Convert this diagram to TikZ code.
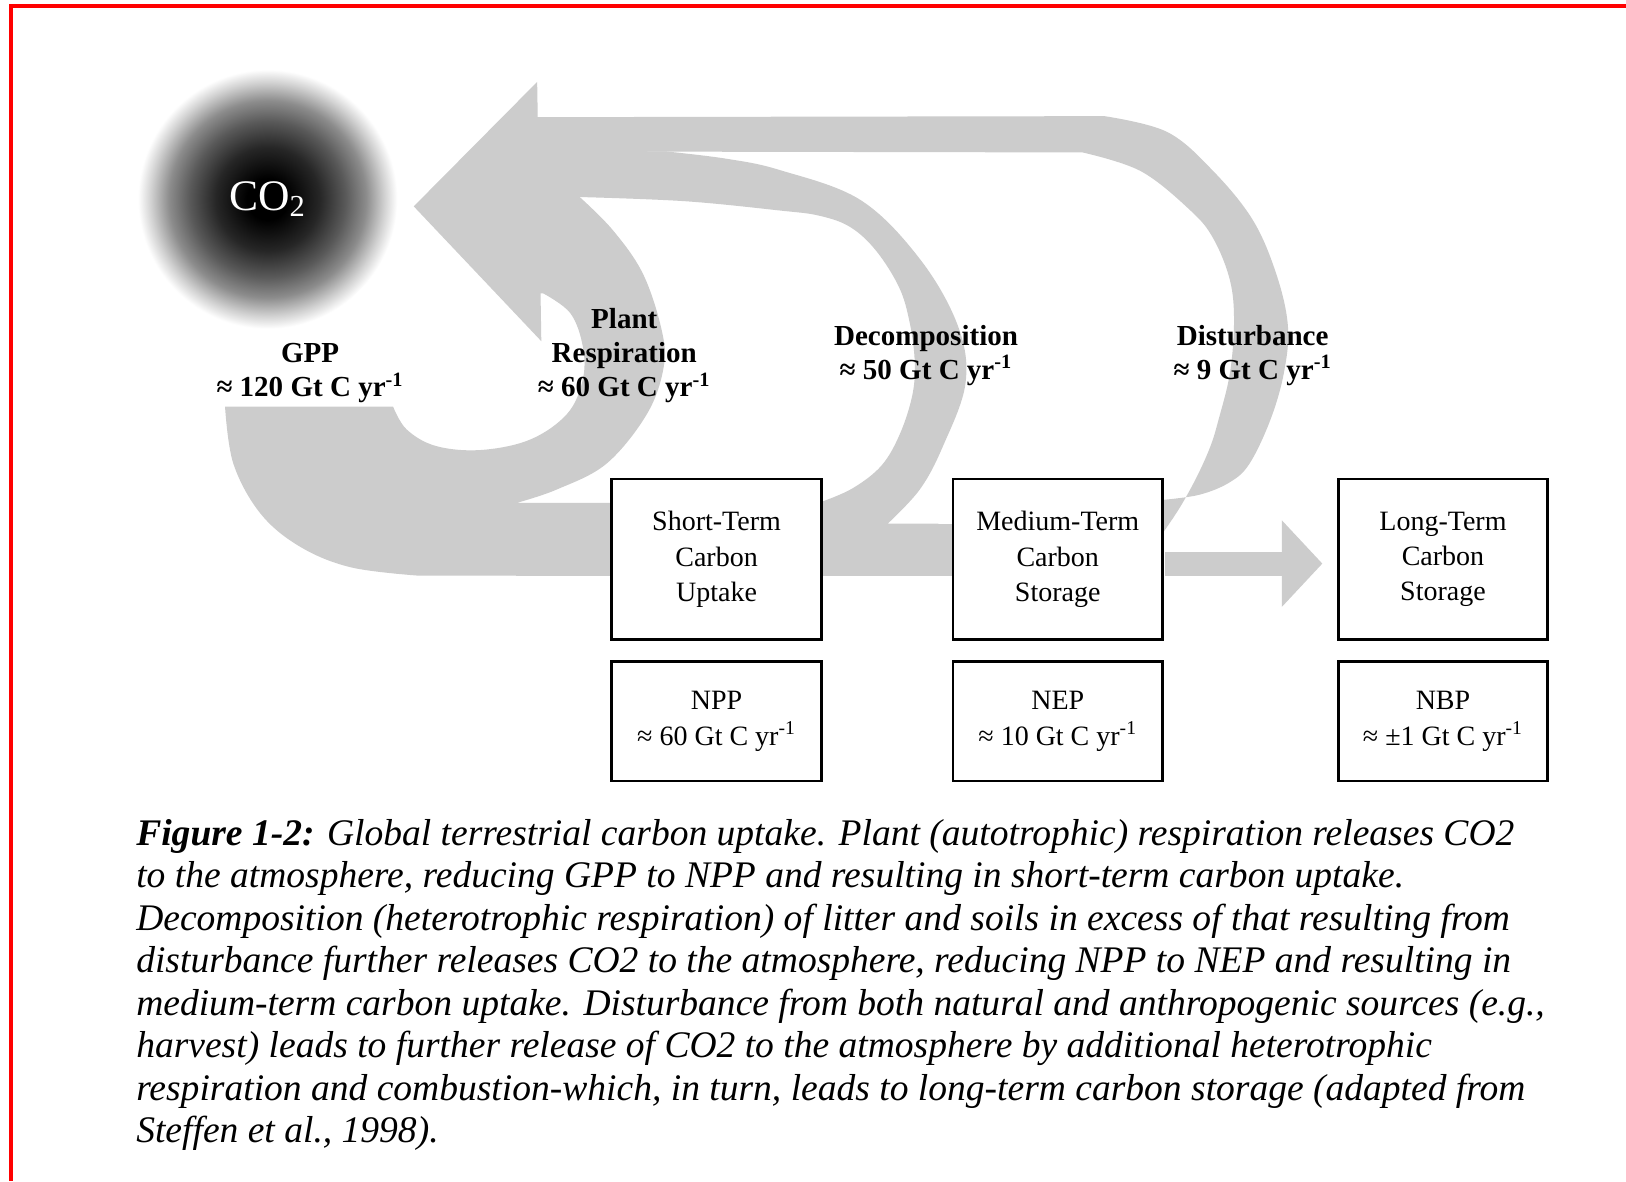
\documentclass[tikz,border=0pt]{standalone}
\usepackage{fontspec}
\setmainfont{Liberation Serif}
\usetikzlibrary{arrows.meta}
\definecolor{flowgray}{RGB}{204,204,204}
\definecolor{framered}{RGB}{255,0,0}
\pgfdeclareradialshading{cotwo}{\pgfpoint{0bp}{0bp}}{color(0bp)=(black); color(4bp)=(black); color(10bp)=(black!85); color(15bp)=(black!65); color(19bp)=(black!45); color(22.5bp)=(black!18); color(25bp)=(white); color(50bp)=(white)}
\tikzset{
  flow/.style={fill=flowgray, draw=none},
  flowarrow/.style={draw=flowgray, line width=11.5pt, -{Triangle[length=19.5pt,width=40.5pt]}},
  boxnode/.style={draw=black, line width=1.3pt, fill=white, align=center, inner sep=0pt, minimum width=101pt, font=\fontsize{13.5}{17}\selectfont},
  topbox/.style={boxnode, minimum height=77.5pt},
  lowbox/.style={boxnode, minimum height=57.5pt},
  flowlabel/.style={align=center, inner sep=0pt, font=\bfseries\fontsize{14}{16.5}\selectfont},
  capline/.style={anchor=base west, inner sep=0pt, font=\itshape\fontsize{18.1}{20.5}\selectfont},
  smoothp/.style={smooth, tension=0.6}
}
\begin{document}
\begin{tikzpicture}[x=0.5pt, y=-0.5pt]
\useasboundingbox (0,0) rectangle (1568,1139);
\fill[white] (0,0) rectangle (1568,1139);

% red frame
\draw[framered, line width=1.85pt] (10.6,1139) -- (10.6,5.8) -- (1568,5.8);

% CO2 cloud
\node[circle, minimum size=125pt, inner sep=0pt, shade, shading=cotwo, text=white,
      font=\fontsize{21}{24}\selectfont] (co2) at (258,192) {CO\textsubscript{2}};

% ---- grey flows ----
% arrowhead towards CO2
\fill[flow] (399,199) -- (518,79) -- (522,329) -- cycle;
% disturbance loop
\fill[flow] (518,113) -- (1065,112)
  -- plot[smoothp] coordinates {(1065,112) (1125,127) (1169,164) (1208,212) (1231,265) (1242,315) (1238,360) (1225,405) (1205,447) (1186,465) (1157,477) (1122,482)}
  -- (1100,482) -- (1100,513) -- (1122,513)
  -- plot[smoothp] coordinates {(1122,513) (1138,489) (1154,460) (1167,431) (1175,405) (1186,360) (1190,310) (1186,270) (1170,230) (1148,203) (1100,165) (1044,147)}
  -- (518,146) -- cycle;
% decomposition loop
\fill[flow] (518,145) -- (642,146)
  -- plot[smoothp] coordinates {(642,146) (700,153) (752,164) (830,193) (888,251) (924,315) (931,370) (909,431) (887,472) (856,505)}
  -- (905,505) -- (905,555) -- (780,555) -- (780,484) -- (792,484)
  -- plot[smoothp] coordinates {(792,484) (822,471) (850,449) (868,418) (880,380) (882,347) (877,310) (867,277) (845,242) (820,219) (790,208) (752,203) (660,194) (559,190)}
  -- (518,190) -- cycle;
% GPP and plant respiration
\fill[flow] (217,392) -- (379,392)
  -- plot[smoothp] coordinates {(379,392) (392,414) (420,430) (463,434) (511,424) (547,399) (562,366) (562,334) (550,302) (524,283)}
  -- (518,283) -- (518,180) -- (559,180)
  -- plot[smoothp] coordinates {(559,190) (591,222) (620,264) (638,318) (640,354) (624,399) (585,447) (537,472) (498,485)}
  -- (600,485) -- (600,555) -- (402,555)
  -- plot[smoothp] coordinates {(402,555) (338,547) (289,527) (251,495) (225,447) (217,392)} -- cycle;
% horizontal band
\fill[flow] (498,485) rectangle (800,555);
\fill[flow] (790,505) rectangle (930,555);

% ---- boxes ----
\node[topbox] (st) at (691,539.5) {Short-Term\\Carbon\\Uptake};
\node[topbox] (mt) at (1020,539.5) {Medium-Term\\Carbon\\Storage};
\node[topbox] (lt) at (1391.5,539.5) {Long-Term\\Carbon\\Storage};
\node[lowbox] (npp) at (691,695.5) {NPP\\≈ 60 Gt C yr\textsuperscript{-1}};
\node[lowbox] (nep) at (1020,695.5) {NEP\\≈ 10 Gt C yr\textsuperscript{-1}};
\node[lowbox] (nbp) at (1391.5,695.5) {NBP\\≈ ±1 Gt C yr\textsuperscript{-1}};

% storage arrow
\draw[flowarrow] ([xshift=0.65pt,yshift=-2pt]mt.east) -- ([xshift=-7pt,yshift=-2pt]lt.west);

% ---- flow labels ----
\node[flowlabel] (gpp) at (299,360) {GPP\\≈ 120 Gt C yr\textsuperscript{-1}};
\node[flowlabel] (resp) at (602,343) {Plant\\Respiration\\≈ 60 Gt C yr\textsuperscript{-1}};
\node[flowlabel] (dec) at (893,343) {Decomposition\\≈ 50 Gt C yr\textsuperscript{-1}};
\node[flowlabel] (dist) at (1208,343) {Disturbance\\≈ 9 Gt C yr\textsuperscript{-1}};

% ---- caption ----
\node[capline] (c1) at (131,815) {\textbf{Figure 1-2:} Global terrestrial carbon uptake. Plant (autotrophic) respiration releases CO2};
\node[capline] (c2) at (131,856) {to the atmosphere, reducing GPP to NPP and resulting in short-term carbon uptake.};
\node[capline] (c3) at (131,897) {Decomposition (heterotrophic respiration) of litter and soils in excess of that resulting from};
\node[capline] (c4) at (131,938) {disturbance further releases CO2 to the atmosphere, reducing NPP to NEP and resulting in};
\node[capline] (c5) at (131,979) {medium-term carbon uptake. Disturbance from both natural and anthropogenic sources (e.g.,};
\node[capline] (c6) at (131,1020) {harvest) leads to further release of CO2 to the atmosphere by additional heterotrophic};
\node[capline] (c7) at (131,1061) {respiration and combustion-which, in turn, leads to long-term carbon storage (adapted from};
\node[capline] (c8) at (131,1102) {Steffen et al., 1998).};
\end{tikzpicture}
\end{document}
